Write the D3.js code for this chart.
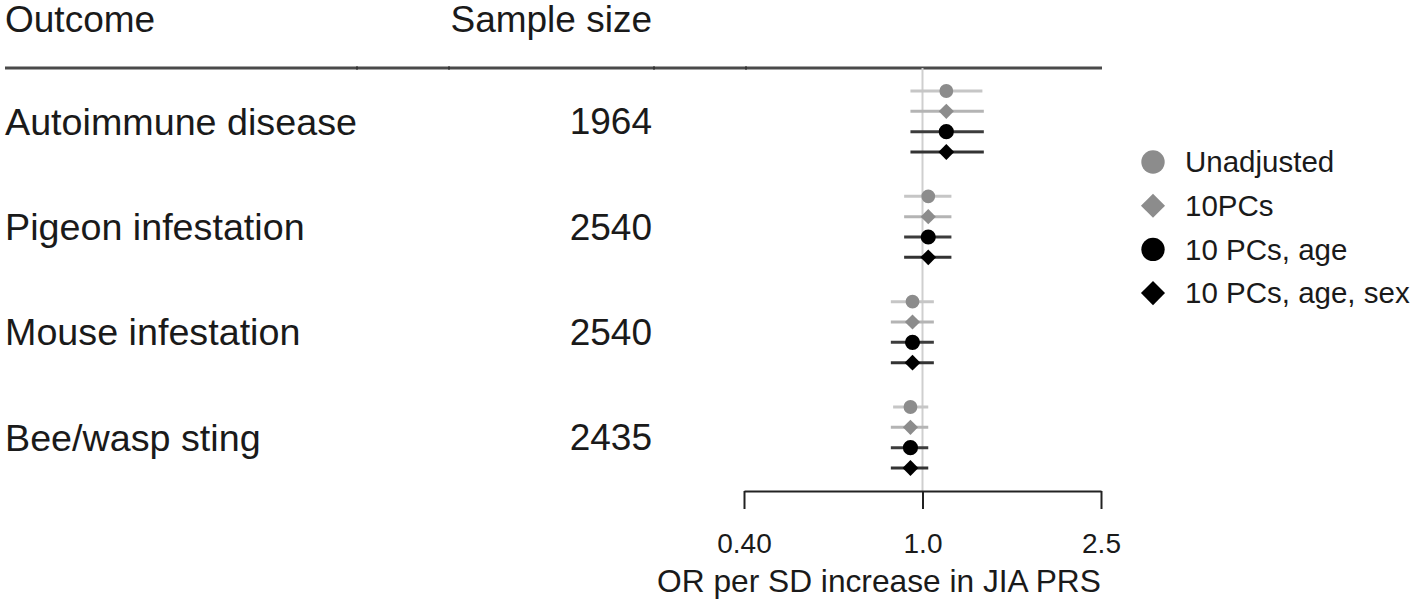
<!DOCTYPE html>
<html>
<head>
<meta charset="utf-8">
<script src="https://cdn.jsdelivr.net/npm/d3@7"></script>
<style>
    body { margin: 0; background: #fff; }
    svg text { font-family: "Liberation Sans", Arial, sans-serif; fill: #1a1a1a; }
</style>
</head>
<body>
<div id="chart"></div>
<script>
// Data
const outcomes = ["Autoimmune disease", "Pigeon infestation", "Mouse infestation", "Bee/wasp sting"];
const sampleSizes = [1964, 2540, 2540, 2435];
const models = ["Unadjusted", "10PCs", "10 PCs, age", "10 PCs, age, sex"];

// odds ratios and 95% CI per model, one value per outcome
const orUnadj = [1.13, 1.03, 0.95, 0.94];
const loUnadj = [0.94, 0.91, 0.85, 0.86];
const hiUnadj = [1.36, 1.16, 1.06, 1.03];

const orPCs = [1.13, 1.03, 0.95, 0.94];
const loPCs = [0.94, 0.91, 0.85, 0.85];
const hiPCs = [1.37, 1.16, 1.06, 1.03];

const orAge = [1.13, 1.03, 0.95, 0.94];
const loAge = [0.94, 0.91, 0.85, 0.85];
const hiAge = [1.37, 1.16, 1.06, 1.03];

const orSex = [1.13, 1.03, 0.95, 0.94];
const loSex = [0.94, 0.91, 0.85, 0.85];
const hiSex = [1.37, 1.16, 1.06, 1.03];

const xTicks = [0.40, 1.0, 2.5];
const xTickLabels = ["0.40", "1.0", "2.5"];

const width = 1416, height = 605;

const svg = d3.select("#chart")
    .append("svg")
    .attr("width", width)
    .attr("height", height);

// square diamond (rotated square) rather than d3's tall diamond
const diamond = {
    draw(context, size) {
        const r = Math.sqrt(size / 2);
        context.moveTo(0, -r);
        context.lineTo(r, 0);
        context.lineTo(0, r);
        context.lineTo(-r, 0);
        context.closePath();
    }
};

// one style per model: shape, point colour, CI colour
const styles = [
    { shape: d3.symbolCircle, fill: "#8c8c8c", line: "#c6c6c6", size: 150, legendSize: 430 },
    { shape: diamond, fill: "#8c8c8c", line: "#b4b4b4", size: 115, legendSize: 290 },
    { shape: d3.symbolCircle, fill: "#000", line: "#3c3c3c", size: 180, legendSize: 430 },
    { shape: diamond, fill: "#000", line: "#333", size: 125, legendSize: 290 }
];
const series = [
    [orUnadj, loUnadj, hiUnadj],
    [orPCs, loPCs, hiPCs],
    [orAge, loAge, hiAge],
    [orSex, loSex, hiSex]
];

const rows = [];
outcomes.forEach((o, i) => {
    models.forEach((m, j) => {
        rows.push({ outcome: o, model: j, or: series[j][0][i], lo: series[j][1][i], hi: series[j][2][i] });
    });
});

// Scales
const x = d3.scaleLog()
    .domain([0.40, 2.5])
    .range([744, 1101]);

const yOut = d3.scalePoint()
    .domain(outcomes)
    .range([121.5, 437.5]);

const yIn = d3.scalePoint()
    .domain(d3.range(models.length))
    .range([-30.5, 30.5]);

// Header
svg.append("text")
    .attr("x", 5).attr("y", 32)
    .attr("font-size", 37)
    .text("Outcome");

svg.append("text")
    .attr("x", 652).attr("y", 32)
    .attr("text-anchor", "end")
    .attr("font-size", 37)
    .text("Sample size");

svg.append("line")
    .attr("x1", 5).attr("x2", 1102)
    .attr("y1", 68).attr("y2", 68)
    .attr("stroke", "#4a4a4a")
    .attr("stroke-width", 3);

// small column marks on the header rule
svg.selectAll(".colmark")
    .data([357, 449, 654, 746])
    .enter()
    .append("line")
    .attr("x1", d => d).attr("x2", d => d)
    .attr("y1", 66).attr("y2", 70)
    .attr("stroke", "#222")
    .attr("stroke-width", 1);

// Reference line at OR = 1
svg.append("line")
    .attr("x1", x(1)).attr("x2", x(1))
    .attr("y1", 68).attr("y2", 491)
    .attr("stroke", "#cfcfcf")
    .attr("stroke-width", 2);

// Row labels
svg.selectAll(".outcome")
    .data(outcomes)
    .enter()
    .append("text")
    .attr("x", 5)
    .attr("y", d => yOut(d))
    .attr("dy", "0.35em")
    .attr("font-size", 37.7)
    .text(d => d);

svg.selectAll(".n")
    .data(outcomes)
    .enter()
    .append("text")
    .attr("x", 652)
    .attr("y", d => yOut(d))
    .attr("dy", "0.35em")
    .attr("text-anchor", "end")
    .attr("font-size", 37)
    .text((d, i) => sampleSizes[i]);

// CIs and points
const g = svg.append("g");

g.selectAll(".ci")
    .data(rows)
    .enter()
    .append("line")
    .attr("x1", d => x(d.lo))
    .attr("x2", d => x(d.hi))
    .attr("y1", d => yOut(d.outcome) + yIn(d.model))
    .attr("y2", d => yOut(d.outcome) + yIn(d.model))
    .attr("stroke", d => styles[d.model].line)
    .attr("stroke-width", 3);

g.selectAll(".pt")
    .data(rows)
    .enter()
    .append("path")
    .attr("d", d => d3.symbol().type(styles[d.model].shape).size(styles[d.model].size)())
    .attr("transform", d => `translate(${x(d.or)},${yOut(d.outcome) + yIn(d.model)})`)
    .attr("fill", d => styles[d.model].fill);

// X axis
const axis = svg.append("g")
    .attr("transform", "translate(0,491)")
    .call(d3.axisBottom(x)
        .tickValues(xTicks)
        .tickFormat((d, i) => xTickLabels[i])
        .tickSize(18)
        .tickSizeOuter(0)
        .tickPadding(24));

axis.select(".domain")
    .attr("stroke", "#222")
    .attr("stroke-width", 2);
axis.selectAll(".tick line")
    .attr("stroke", "#222")
    .attr("stroke-width", 2);
axis.selectAll(".tick text")
    .attr("font-family", "Liberation Sans, Arial, sans-serif")
    .attr("font-size", 28)
    .attr("fill", "#1a1a1a");

svg.append("text")
    .attr("x", 879).attr("y", 592)
    .attr("text-anchor", "middle")
    .attr("font-size", 31.7)
    .text("OR per SD increase in JIA PRS");

// Legend
const legend = svg.selectAll(".legend")
    .data(models)
    .enter()
    .append("g")
    .attr("transform", (d, i) => `translate(1153,${162 + i * 43.7})`);

legend.append("path")
    .attr("d", (d, i) => d3.symbol().type(styles[i].shape).size(styles[i].legendSize)())
    .attr("fill", (d, i) => styles[i].fill);

legend.append("text")
    .attr("x", 32)
    .attr("dy", "0.35em")
    .attr("font-size", 29.5)
    .text(d => d);
</script>
</body>
</html>
